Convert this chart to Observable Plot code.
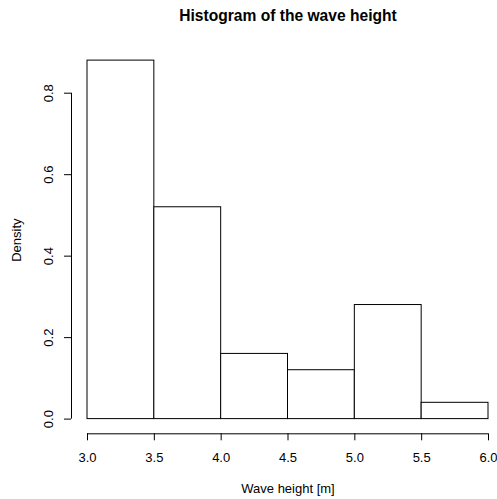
<!DOCTYPE html>
<html>
<head>
<meta charset="utf-8">
<script src="https://cdn.jsdelivr.net/npm/d3@7"></script>
<script src="https://cdn.jsdelivr.net/npm/@observablehq/plot@0.6"></script>
<style>
  html, body { margin: 0; padding: 0; background: #fff; }
  svg { display: block; }
</style>
</head>
<body>
<div id="chart"></div>
<script>
// Histogram bins (wave height, m) and densities
const binStart = [3.0, 3.5, 4.0, 4.5, 5.0, 5.5];
const binEnd   = [3.5, 4.0, 4.5, 5.0, 5.5, 6.0];
const density  = [0.88, 0.52, 0.16, 0.12, 0.28, 0.04];

const xTicks = [3.0, 3.5, 4.0, 4.5, 5.0, 5.5, 6.0];
const yTicks = [0.0, 0.2, 0.4, 0.6, 0.8];

const titleText = "Histogram of the wave height";
const xLabel = "Wave height [m]";
const yLabel = "Density";

const bins = binStart.map((s, i) => ({x1: s, x2: binEnd[i], y: density[i]}));
const font = "'Liberation Sans', Arial, Helvetica, sans-serif";

const chart = Plot.plot({
  width: 497,
  height: 499,
  marginLeft: 71,
  insetLeft: 16,
  marginRight: 9,
  insetRight: 0,
  marginTop: 46,
  insetTop: 46.7,
  marginBottom: 65.7,
  insetBottom: 14.7,
  style: {fontFamily: font, background: "#fff", color: "#000"},
  x: {domain: [xTicks[0], xTicks[xTicks.length - 1]], axis: null},
  y: {domain: [yTicks[0], yTicks[yTicks.length - 1]], axis: null},
  marks: [
    Plot.rect(bins, {x1: "x1", x2: "x2", y1: 0, y2: "y", fill: "#fff", stroke: "#000", strokeWidth: 1}),
    // y axis: line, ticks, labels
    Plot.ruleX([xTicks[0]], {y1: yTicks[0], y2: yTicks[yTicks.length - 1], dx: -16, stroke: "#000"}),
    Plot.axisY({ticks: yTicks, tickSize: 7, tickFormat: () => "", label: null, stroke: "#000"}),
    Plot.text(yTicks, {y: d => d, text: d => d.toFixed(1), frameAnchor: "left", dx: -19, rotate: -90,
      textAnchor: "middle", lineAnchor: "bottom", fontSize: 13, fill: "#000"}),
    // x axis: line, ticks, labels
    Plot.ruleY([yTicks[0]], {x1: xTicks[0], x2: xTicks[xTicks.length - 1], dy: 14.7, stroke: "#000"}),
    Plot.axisX({ticks: xTicks, tickSize: 7, tickFormat: () => "", label: null, stroke: "#000"}),
    Plot.text(xTicks, {x: d => d, text: d => d.toFixed(1), frameAnchor: "bottom", dy: 28.5,
      lineAnchor: "bottom", fontSize: 13, fill: "#000"}),
    // titles
    Plot.text([titleText], {frameAnchor: "top", dx: 8, dy: -26, lineAnchor: "bottom",
      fontSize: 15.6, fontWeight: "bold", fill: "#000"}),
    Plot.text([xLabel], {frameAnchor: "bottom", dx: 8, dy: 59.2, lineAnchor: "bottom",
      fontSize: 13, fill: "#000"}),
    Plot.text([yLabel], {frameAnchor: "left", dx: -50.3, rotate: -90, textAnchor: "middle", lineAnchor: "bottom",
      fontSize: 13, fill: "#000"})
  ]
});
document.getElementById("chart").appendChild(chart);
</script>
</body>
</html>
